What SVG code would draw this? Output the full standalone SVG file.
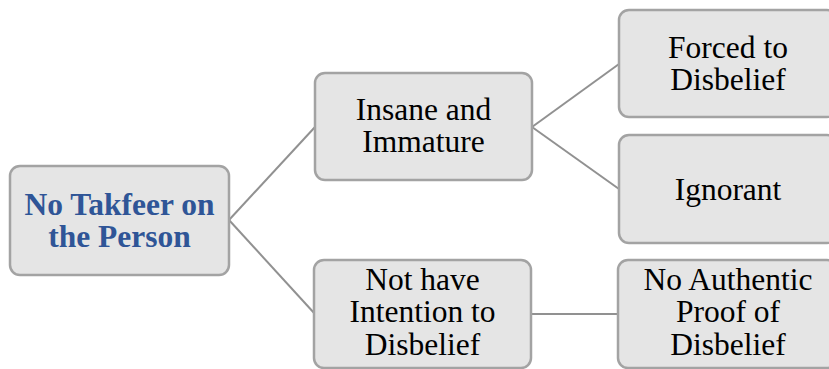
<svg xmlns="http://www.w3.org/2000/svg" width="829" height="369" viewBox="0 0 829 369">
<style>
.box{fill:#e5e5e5;stroke:#a3a3a3;stroke-width:2.5}
.t{font-size:31.5px;fill:#000;text-anchor:middle}
.root{font-weight:bold;fill:#2f5597}
.c{stroke:#919191;stroke-width:2;fill:none}
</style>
<rect width="829" height="369" fill="#fff"/>
<g id="connectors">
<line class="c" x1="229" y1="220" x2="315" y2="127"/>
<line class="c" x1="229" y1="220" x2="315" y2="314"/>
<line class="c" x1="532" y1="127" x2="619" y2="64"/>
<line class="c" x1="532" y1="127" x2="619" y2="189"/>
<line class="c" x1="531" y1="314" x2="618" y2="314"/>
</g>
<g font-family="Liberation Serif, Times New Roman, DejaVu Serif, serif">
<g id="root">
<rect class="box" x="10" y="166" width="219" height="109" rx="10"/>
<text class="t root" x="119.5" y="214.5">No Takfeer on</text>
<text class="t root" x="119.5" y="246.5">the Person</text>
</g>
<g id="insane">
<rect class="box" x="315" y="73" width="217" height="107" rx="10"/>
<text class="t" x="423.5" y="120">Insane and</text>
<text class="t" x="423.5" y="152">Immature</text>
</g>
<g id="forced">
<rect class="box" x="619" y="10" width="218" height="107" rx="10"/>
<text class="t" x="728" y="57.5">Forced to</text>
<text class="t" x="728" y="90">Disbelief</text>
</g>
<g id="ignorant">
<rect class="box" x="619" y="135" width="218" height="108" rx="10"/>
<text class="t" x="728" y="200">Ignorant</text>
</g>
<g id="intention">
<rect class="box" x="314" y="260" width="217" height="108" rx="10"/>
<text class="t" x="422.5" y="289.5">Not have</text>
<text class="t" x="422.5" y="322">Intention to</text>
<text class="t" x="422.5" y="354.5">Disbelief</text>
</g>
<g id="proof">
<rect class="box" x="618" y="260" width="219" height="108" rx="10"/>
<text class="t" x="728" y="289.5">No Authentic</text>
<text class="t" x="728" y="322">Proof of</text>
<text class="t" x="728" y="354.5">Disbelief</text>
</g>
</g>
</svg>
